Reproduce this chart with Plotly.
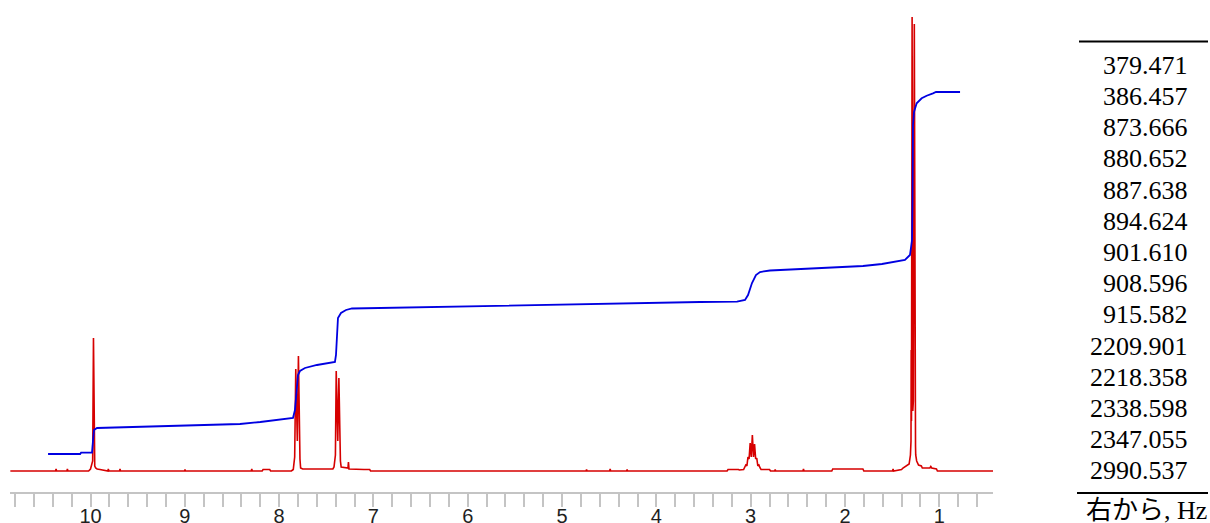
import plotly.graph_objects as go

# 1H NMR spectrum (ppm, relative intensity)
spec_ppm = [
    10.85, 10.37, 10.365, 10.36, 10.25, 10.245, 10.24,
    10.02, 10.00, 9.987, 9.977, 9.9685, 9.962, 9.955, 9.945, 9.93, 9.90, 9.86, 9.83,
    9.815, 9.811, 9.805, 9.692, 9.687, 9.682, 9.003, 8.998, 8.993,
    8.295, 8.29, 8.285, 8.18, 8.17, 8.10, 8.09,
    7.87, 7.85, 7.843, 7.835, 7.8235, 7.812, 7.807, 7.7953, 7.787, 7.779, 7.772, 7.75, 7.55,
    7.43, 7.418, 7.412, 7.403, 7.3945, 7.384, 7.378, 7.3663, 7.358, 7.350, 7.342, 7.29,
    7.27, 7.265, 7.259, 7.10, 7.04, 7.03,
    4.745, 4.74, 4.735, 4.495, 4.49, 4.485, 4.315, 4.31, 4.305,
    3.25, 3.24, 3.13, 3.12, 3.075, 3.066, 3.0519, 3.040, 3.0286, 3.017, 3.0053, 2.994,
    2.9821, 2.970, 2.9589, 2.947, 2.9355, 2.924, 2.9122, 2.900, 2.89, 2.80, 2.79,
    2.745, 2.74, 2.735, 2.445, 2.44, 2.435, 2.14, 2.13, 1.81, 1.80,
    1.495, 1.49, 1.485,
    1.40, 1.385, 1.35, 1.32, 1.306, 1.300, 1.298, 1.295, 1.2882, 1.281, 1.279, 1.275,
    1.2649, 1.260, 1.258, 1.252, 1.250, 1.24, 1.22, 1.19, 1.18, 1.10, 1.09, 1.08, 1.03, 1.02,
    0.43,
]
spec_int = [
    0, 0, 2, 0, 0, 2, 0,
    0, 2, 8, 10, 133, 10, 5, 3, 2, 1.5, 1, 0,
    0, 2, 0, 0, 2, 0, 0, 1.5, 0,
    0, 2, 0, 0, 1.5, 1.5, 0,
    0, 1.5, 12, 14, 102, 38, 30, 115, 14, 12, 3, 2, 2,
    2, 4, 13, 16, 100, 38, 30, 93, 14, 10, 4, 3,
    3, 9, 2, 1.5, 1.5, 0,
    0, 1.5, 0, 0, 2, 0, 0, 1.5, 0,
    0, 1.5, 1.5, 1, 1.5, 3, 6, 5, 14, 12, 28, 14,
    36, 14, 27, 12, 13, 5, 6, 3, 1.5, 1.5, 0,
    0, 1.5, 0, 0, 2, 0, 0, 2, 2, 0,
    0, 2, 0,
    1.5, 3, 5, 7, 16, 30, 121, 50, 454, 60, 139, 70,
    447, 50, 121, 25, 16, 10, 6, 5, 3, 3, 4.5, 3, 2, 0,
    0,
]

# Integral curve (ppm, cumulative integral)
integ_ppm = [
    10.45, 10.11, 10.10, 9.984, 9.973, 9.963, 9.931, 9.58, 8.84, 8.415, 8.20, 7.99,
    7.853, 7.832, 7.811, 7.800, 7.779, 7.726, 7.599, 7.408, 7.397, 7.387, 7.376,
    7.344, 7.291, 7.227, 6.718, 5.658, 4.598, 3.537, 3.145, 3.060, 3.028, 2.986,
    2.944, 2.901, 2.795, 2.445, 2.085, 1.809, 1.608, 1.491, 1.364, 1.311, 1.300,
    1.289, 1.284, 1.279, 1.268, 1.240, 1.187, 1.134, 1.067, 1.035, 0.78,
]
integ_val = [
    17, 17, 18.3, 18.3, 31, 41, 43, 44, 45.5, 47, 49, 51,
    53, 61, 81, 96, 100, 103, 106, 109, 116, 136, 153,
    158, 161, 162.5, 163.5, 165, 167, 169, 169.3, 171, 176, 188,
    196, 199, 200.5, 202, 203.5, 205, 207, 209, 211, 216, 226,
    231, 271, 346, 359, 367.7, 372.7, 375.3, 377.7, 379, 379,
]

# Peak list, Hz
peak_hz = [
    "379.471", "386.457", "873.666", "880.652", "887.638", "894.624", "901.610",
    "908.596", "915.582", "2209.901", "2218.358", "2338.598", "2347.055", "2990.537",
]
peak_header = "<span style=\"font-family:'Noto Sans CJK JP'\">右から</span>, Hz"

# Page geometry (pixels)
W, H = 1210, 523
PL, PR, PT, PB = 10, 993, 0, 492
BASE_PX = 471


def px_x(px):
    return (px - PL) / (PR - PL)


def px_y(py):
    return (PB - py) / (PB - PT)


fig = go.Figure()
fig.add_trace(go.Scatter(
    x=spec_ppm, y=spec_int, mode="lines",
    line=dict(color="rgb(214,0,0)", width=1.6),
    hoverinfo="skip", showlegend=False, cliponaxis=False,
))
fig.add_trace(go.Scatter(
    x=integ_ppm, y=integ_val, mode="lines",
    line=dict(color="rgb(0,0,225)", width=1.8, shape="linear"),
    hoverinfo="skip", showlegend=False, cliponaxis=False,
))

annotations = []
row0, step = 65.2, 31.2
for i, txt in enumerate(peak_hz):
    annotations.append(dict(
        text=txt, xref="paper", yref="paper",
        x=px_x(1190), y=px_y(row0 + i * step),
        xanchor="right", yanchor="middle", showarrow=False,
        font=dict(family="Liberation Serif", size=26, color="black"),
    ))
annotations.append(dict(
    text=peak_header, xref="paper", yref="paper",
    x=px_x(1209), y=px_y(507),
    xanchor="right", yanchor="middle", showarrow=False,
    font=dict(family="Liberation Serif", size=26, color="black"),
))

shapes = [
    dict(type="line", xref="paper", yref="paper",
         x0=px_x(1079), x1=px_x(1208), y0=px_y(41.5), y1=px_y(41.5),
         line=dict(color="black", width=2)),
    dict(type="line", xref="paper", yref="paper",
         x0=px_x(1077), x1=px_x(1208), y0=px_y(493), y1=px_y(493),
         line=dict(color="black", width=2)),
]

ppm_left = 10 + (90.5 - PL) / 94.31
ppm_right = 10 - (PR - 90.5) / 94.31

fig.update_layout(
    width=W, height=H, autosize=False,
    margin=dict(l=PL, r=W - PR, t=PT, b=H - PB, pad=0),
    paper_bgcolor="white", plot_bgcolor="white",
    xaxis=dict(
        range=[ppm_left, ppm_right], automargin=False,
        showgrid=False, zeroline=False,
        showline=True, linecolor="#c4c4c4", linewidth=2,
        ticks="outside", ticklen=13, tickwidth=1.5, tickcolor="#c4c4c4",
        tickmode="linear", tick0=0, dtick=1, ticklabelstandoff=-8,
        minor=dict(ticks="outside", ticklen=13, tickwidth=1.5, tickcolor="#c4c4c4",
                   tickmode="linear", tick0=0, dtick=0.2, showgrid=False),
        tickfont=dict(family="Liberation Sans", size=20, color="#1e1e1e"),
    ),
    yaxis=dict(
        range=[-(PB - BASE_PX), BASE_PX - PT], automargin=False,
        visible=False, showgrid=False, zeroline=False,
    ),
    annotations=annotations,
    shapes=shapes,
)

fig.write_html("out.html")
